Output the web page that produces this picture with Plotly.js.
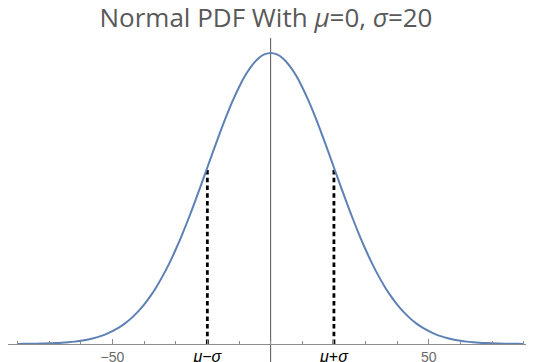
<!DOCTYPE html>
<html>
<head>
<meta charset="utf-8">
<script src="https://cdn.plot.ly/plotly-3.0.1.min.js"></script>
<style>html,body{margin:0;padding:0;background:#fff;}#chart{width:533px;height:362px;}</style>
</head>
<body>
<div id="chart"></div>
<script>
// Normal PDF, mu = 0, sigma = 20
const xValues = [-80,-78,-76,-74,-72,-70,-68,-66,-64,-62,-60,-58,-56,-54,-52,-50,-48,-46,-44,-42,-40,-38,-36,-34,-32,-30,-28,-26,-24,-22,-20,-18,-16,-14,-12,-10,-8,-6,-4,-2,0,2,4,6,8,10,12,14,16,18,20,22,24,26,28,30,32,34,36,38,40,42,44,46,48,50,52,54,56,58,60,62,64,66,68,70,72,74,76,78,80];
const pdfValues = [0.000007,0.000010,0.000015,0.000021,0.000031,0.000044,0.000062,0.000086,0.000119,0.000163,0.000222,0.000298,0.000396,0.000521,0.000679,0.000876,0.001120,0.001416,0.001774,0.002199,0.002700,0.003281,0.003948,0.004703,0.005546,0.006476,0.007486,0.008568,0.009709,0.010892,0.012099,0.013304,0.014484,0.015613,0.016661,0.017603,0.018413,0.019069,0.019552,0.019847,0.019947,0.019847,0.019552,0.019069,0.018413,0.017603,0.016661,0.015613,0.014484,0.013304,0.012099,0.010892,0.009709,0.008568,0.007486,0.006476,0.005546,0.004703,0.003948,0.003281,0.002700,0.002199,0.001774,0.001416,0.001120,0.000876,0.000679,0.000521,0.000396,0.000298,0.000222,0.000163,0.000119,0.000086,0.000062,0.000044,0.000031,0.000021,0.000015,0.000010,0.000007];
const sigmaX = [-20, 20];
const sigmaY = [0.012099, 0.012099];
const tickValues = [-50, -20, 20, 50];
const tickLabels = [
  '<span style="color:#6a6a6a">−50</span>',
  '<span style="font-size:16px"><i>μ</i>−<i>σ</i></span>',
  '<span style="font-size:16px"><i>μ</i>+<i>σ</i></span>',
  '<span style="color:#6a6a6a">50</span>'
];
const titleText = 'Normal PDF With <i>μ</i>=0, <i>σ</i>=20';

const traces = [];
sigmaX.forEach((sx, i) => {
  traces.push({
    x: [sx, sx], y: [0, sigmaY[i]], type: 'scatter', mode: 'lines',
    line: {color: '#000000', width: 2.8, dash: '4.5px,3.2px'},
    hoverinfo: 'skip', showlegend: false
  });
});
traces.push({
  x: xValues, y: pdfValues, type: 'scatter', mode: 'lines',
  line: {color: '#5e81b5', width: 2, shape: 'spline'},
  showlegend: false
});

const layout = {
  width: 533, height: 362,
  margin: {l: 7.5, r: 6.6, t: 37.5, b: 18.2},
  paper_bgcolor: '#ffffff', plot_bgcolor: '#ffffff',
  font: {family: 'Open Sans, Liberation Sans, Arial, sans-serif'},
  title: {
    text: titleText,
    font: {size: 26, color: '#595959', family: 'Open Sans, Liberation Sans, Arial, sans-serif'},
    x: 266 / 533, xanchor: 'center', xref: 'container',
    y: 0.95, yanchor: 'middle', yref: 'container'
  },
  xaxis: {
    range: [-83.0, 80.7],
    showgrid: false, zeroline: false,
    showline: true, linecolor: '#8c8c8c', linewidth: 1,
    tickmode: 'array', tickvals: tickValues, ticktext: tickLabels,
    ticks: 'inside', ticklen: 5, tickcolor: '#8c8c8c', tickwidth: 1,
    tickfont: {size: 14, color: '#000000', family: 'Liberation Sans, Arial, sans-serif'},
    minor: {tick0: 0, dtick: 10, ticks: 'inside', ticklen: 3, tickcolor: '#8c8c8c', showgrid: false},
    fixedrange: true
  },
  yaxis: {
    range: [0, 0.020974],
    showgrid: false, zeroline: false, showline: false,
    showticklabels: false, ticks: '', fixedrange: true
  },
  shapes: [{
    type: 'line', xref: 'x', yref: 'paper', x0: 0, x1: 0, y0: -0.06, y1: 1,
    line: {color: '#555555', width: 1}, layer: 'below'
  }]
};

Plotly.newPlot('chart', traces, layout, {displayModeBar: false, staticPlot: true});
</script>
</body>
</html>
